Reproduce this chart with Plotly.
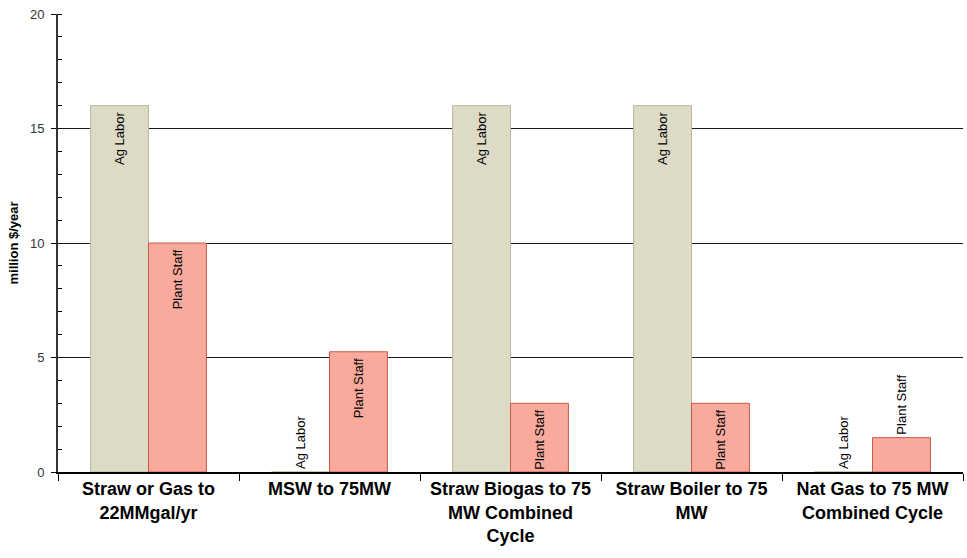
import plotly.graph_objects as go

# Annual labor cost by process option (million $/year)
categories = [
    "Straw or Gas to<br>22MMgal/yr",
    "MSW to 75MW",
    "Straw Biogas to 75<br>MW Combined<br>Cycle",
    "Straw Boiler to 75<br>MW",
    "Nat Gas to 75 MW<br>Combined Cycle",
]
ag_labor = [16, 0, 16, 16, 0]
plant_staff = [10, 5.25, 3, 3, 1.5]
series_names = ["Ag Labor", "Plant Staff"]
y_ticks = [0, 5, 10, 15, 20]

FONT = "Arial, Liberation Sans, sans-serif"
PAD = "\u00a0"


def text_positions(values):
    return ["inside" if v >= 2.5 else "outside" for v in values]


fig = go.Figure()
fig.add_trace(go.Bar(
    x=categories, y=ag_labor, name=series_names[0],
    marker=dict(color="#DDDBC5", line=dict(color="#B9B7A1", width=1)),
    text=[series_names[0] + PAD] * len(categories),
    textposition=text_positions(ag_labor),
    textangle=-90, insidetextanchor="end", constraintext="none",
    textfont=dict(family=FONT, size=13, color="#000000"),
    cliponaxis=False,
))
fig.add_trace(go.Bar(
    x=categories, y=plant_staff, name=series_names[1],
    marker=dict(color="#F9AA9C", line=dict(color="#C85A48", width=1)),
    text=[series_names[1] + PAD] * len(categories),
    textposition=text_positions(plant_staff),
    textangle=-90, insidetextanchor="end", constraintext="none",
    textfont=dict(family=FONT, size=13, color="#000000"),
    cliponaxis=False,
))

fig.update_layout(
    width=967, height=558,
    margin=dict(l=58, r=4, t=14, b=86),
    paper_bgcolor="white", plot_bgcolor="white",
    barmode="group", bargap=0.36, bargroupgap=0,
    showlegend=False,
    font=dict(family=FONT, color="#000000"),
    uniformtext=dict(minsize=13, mode="show"),
)
fig.update_xaxes(
    showline=True, linecolor="#000000", linewidth=1.5,
    ticks="outside", tickson="boundaries", ticklen=7, tickcolor="#000000",
    tickfont=dict(family=FONT, size=18, color="#000000", weight="bold"),
    showgrid=False, zeroline=False, tickangle=0,
)
fig.update_yaxes(
    range=[0, 20], tickvals=y_ticks,
    showline=True, linecolor="#333333", linewidth=2,
    showgrid=True, gridcolor="#1a1a1a", gridwidth=1,
    zeroline=False,
    ticks="outside", ticklen=5, tickcolor="#000000",
    ticklabelstandoff=4,
    minor=dict(tickvals=list(range(0, 21)), ticks="inside", ticklen=4,
               tickcolor="#000000", showgrid=False),
    tickfont=dict(family=FONT, size=13, color="#333333"),
    title=dict(text="million $/year", standoff=8,
               font=dict(family=FONT, size=13, color="#000000", weight="bold")),
)

fig.write_html("out.html")
